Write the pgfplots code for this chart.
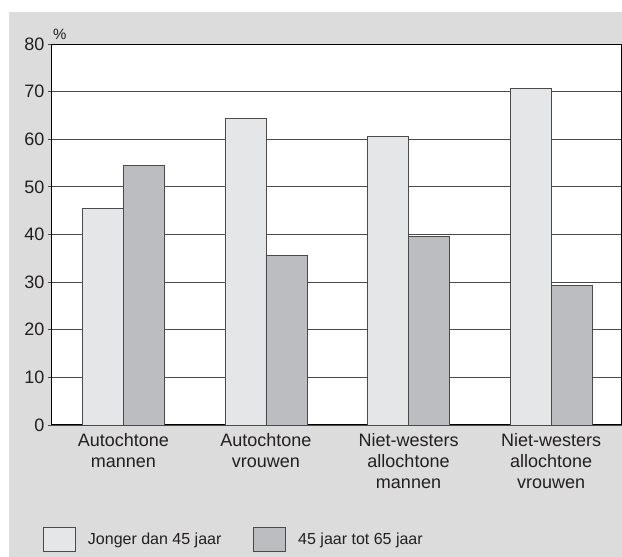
\documentclass[border=0pt]{standalone}
\usepackage{fontspec}
\setmainfont{Liberation Sans}
\usepackage{pgfplots}
\pgfplotsset{compat=1.18}
\definecolor{bg}{HTML}{DCDCDD}
\definecolor{lightbar}{HTML}{E5E6E8}
\definecolor{darkbar}{HTML}{BCBDC0}
\definecolor{edge}{HTML}{4A4A4A}
\definecolor{txt}{HTML}{231F20}
\begin{document}
\begin{tikzpicture}[x=1pt,y=1pt]
\useasboundingbox (0,0) rectangle (622,557);
\fill[bg] (9,0) rectangle (622,545);
\begin{axis}[
  name=ax,
  at={(52pt,132pt)}, anchor=south west,
  scale only axis, width=569pt, height=381pt,
  xmin=-0.5, xmax=3.49, ymin=0, ymax=80,
  ytick={0,10,...,80},
  xtick={0,1,2,3},
  xticklabels={{Autochtone\\mannen},{Autochtone\\vrouwen},{Niet-westers\\allochtone\\mannen},{Niet-westers\\allochtone\\vrouwen}},
  xticklabel style={align=center, font=\fontsize{18}{21}\selectfont, text=txt, yshift=-1pt},
  yticklabel style={font=\fontsize{18}{21}\selectfont, text=txt},
  /pgf/number format/assume math mode=true,
  x tick style={draw=none},
  tick align=outside, major tick length=4pt,
  y tick style={edge, line width=0.8pt},
  ymajorgrids, grid style={edge, line width=0.8pt},
  axis line style={black, line width=1pt},
  axis background/.style={fill=white},
  ybar=0pt, bar width=41pt,
  legend columns=2,
  legend style={draw=none, fill=none, inner sep=0pt, anchor=west, at={(0,0)}, xshift=-9pt, yshift=-114pt,
    font=\fontsize{16}{18}\selectfont, text=txt,
    nodes={inner sep=0pt},
    /tikz/every odd column/.append style={column sep=12pt},
    /tikz/every even column/.append style={column sep=32pt}},
  legend cell align=left,
]
\addplot[fill=lightbar, draw=edge, line width=0.8pt,
  legend image code/.code={\draw[fill=lightbar, draw=edge, line width=0.8pt] (0pt,-12pt) rectangle (32pt,12pt);}]
  coordinates {(0,45.5) (1,64.4) (2,60.5) (3,70.7)};
\addplot[fill=darkbar, draw=edge, line width=0.8pt,
  legend image code/.code={\draw[fill=darkbar, draw=edge, line width=0.8pt] (0pt,-12pt) rectangle (32pt,12pt);}]
  coordinates {(0,54.5) (1,35.6) (2,39.5) (3,29.3)};
\legend{Jonger dan 45 jaar, 45 jaar tot 65 jaar}
\end{axis}
\node[font=\fontsize{15}{15}\selectfont, text=txt, anchor=base west, inner sep=0pt] at ([xshift=1pt, yshift=5pt]ax.north west) {\%};
\end{tikzpicture}
\end{document}
